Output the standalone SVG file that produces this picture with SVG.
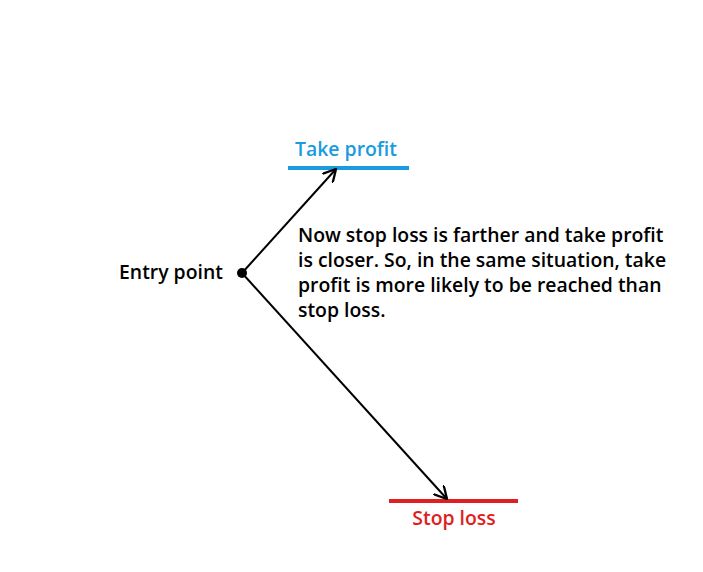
<svg xmlns="http://www.w3.org/2000/svg" width="703" height="572" viewBox="0 0 703 572">
<style>
text{font-family:"Open Sans","Liberation Sans",sans-serif;font-weight:600;font-size:19.4px}
.c{stroke:#000;stroke-width:2;fill:none}
</style>
<defs><marker id="a" viewBox="0 0 12 12" refX="11" refY="6" markerWidth="14" markerHeight="14" markerUnits="userSpaceOnUse" orient="auto"><path d="M0,0 L11,6 L0,12" fill="none" stroke="#000" stroke-width="2"/></marker></defs>
<rect width="703" height="572" fill="#fff"/>
<g id="take-profit"><line x1="288" y1="168" x2="409" y2="168" stroke="#1a9be0" stroke-width="4"/><text x="346" y="156" text-anchor="middle" fill="#1a9be0">Take profit</text></g>
<g id="stop-loss"><line x1="389" y1="501" x2="518" y2="501" stroke="#e02020" stroke-width="4"/><text x="454" y="525" text-anchor="middle" fill="#e02020">Stop loss</text></g>
<g id="entry"><circle cx="242" cy="273" r="5" fill="#000"/><text x="119" y="279">Entry point</text></g>
<g id="note"><text x="298" y="242">Now stop loss is farther and take profit</text><text x="298" y="267">is closer. So, in the same situation, take</text><text x="298" y="292">profit is more likely to be reached than</text><text x="298" y="317">stop loss.</text></g>
<g id="connectors"><line class="c" x1="242" y1="273" x2="336" y2="169" marker-end="url(#a)"/><line class="c" x1="242" y1="273" x2="447" y2="499" marker-end="url(#a)"/></g>
</svg>
